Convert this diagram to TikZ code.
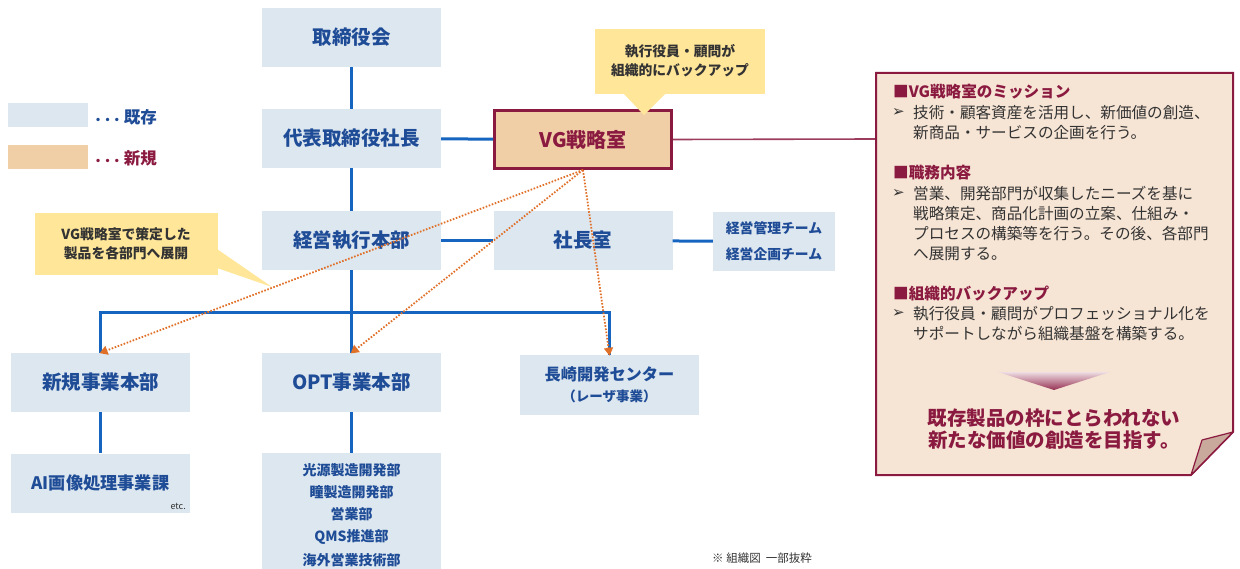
\documentclass[tikz,border=0pt]{standalone}
\usepackage{fontspec}
\setmainfont{Noto Sans CJK JP}
\newfontfamily\dejavu{DejaVu Sans}
\usetikzlibrary{arrows.meta}
\definecolor{boxblue}{HTML}{DDE7F0}
\definecolor{txtblue}{HTML}{1F4C96}
\definecolor{lineblue}{HTML}{1565C0}
\definecolor{darkred}{HTML}{8B1A40}
\definecolor{newfill}{HTML}{F0CFA7}
\definecolor{notefill}{HTML}{F6E4D4}
\definecolor{foldfill}{HTML}{C9A99C}
\definecolor{callout}{HTML}{FFE699}
\definecolor{dotorange}{HTML}{E07028}
\definecolor{graytxt}{HTML}{333333}
\newcommand{\fs}[1]{\fontsize{#1}{#1}\selectfont}
\tikzset{
  orgbox/.style={fill=boxblue, minimum width=179pt, minimum height=59pt, inner sep=0pt, text=txtblue, font=\bfseries\fs{19.5}, align=center},
  bl/.style={draw=lineblue, line width=3pt},
  dots/.style={draw=dotorange, line width=1.8pt, dash pattern=on 1.6pt off 1.6pt, -{Triangle[length=8pt,width=9pt,fill=dotorange]}, shorten >=-1pt},
  notetxt/.style={anchor=west, inner sep=0pt, text=graytxt, font=\fs{15.6}},
  notehead/.style={anchor=west, inner sep=0pt, text=darkred, font=\bfseries\fs{15.6}},
  calltxt/.style={inner sep=0pt, text=graytxt, font=\bfseries\fs{13.8}, align=center}
}
\begin{document}
\begin{tikzpicture}[x=1pt,y=-1pt]
\useasboundingbox (0,0) rectangle (1240,569);
% legend
\fill[boxblue] (8,103) rectangle (88,127);
\fill[newfill] (8,145) rectangle (88,169);
\node[anchor=west, inner sep=0pt, text=txtblue, font=\bfseries\fs{16.5}] (lg1) at (95,117) {{\dejavu\bfseries\fs{9.5}• • •}\ 既存};
\node[anchor=west, inner sep=0pt, text=darkred, font=\bfseries\fs{16.5}] (lg2) at (95,158) {{\dejavu\bfseries\fs{9.5}• • •}\ 新規};
% boxes
\node[orgbox] (board) at (351.5,37.5) {取締役会};
\node[orgbox] (ceo) at (351.5,138.5) {代表取締役社長};
\node[orgbox] (exec) at (351.5,240.5) {経営執行本部};
\node[orgbox] (pres) at (583,240.5) {社長室};
\node[orgbox, minimum width=122pt, font=\bfseries\fs{13.8}, align=center] (team) at (774,241.5) {経営管理チーム\\[12pt]経営企画チーム};
\node[orgbox] (shinki) at (100.5,382.5) {新規事業本部};
\node[orgbox, font=\bfseries\fs{17.2}] (ai) at (100.5,483) {AI画像処理事業課};
\node[anchor=south east, inner sep=0pt, text=graytxt, font=\fs{9}] (etc) at (186,510) {etc.};
\node[orgbox] (opt) at (351.5,382.5) {OPT事業本部};
\node[orgbox, minimum height=120pt, anchor=north] (optsub) at (351.5,453) {};
\node[inner sep=0pt, text=txtblue, font=\bfseries\fs{14}, align=center] (optlist) at (351.5,515.5) {光源製造開発部\\[8pt]瞳製造開発部\\[8pt]営業部\\[8pt]QMS推進部\\[8pt]海外営業技術部};
\node[orgbox, minimum height=60pt, font=\bfseries\fs{16.2}] (naga) at (609.5,385) {長崎開発センター\\[5pt]{\fs{13.5}（レーザ事業）}};
\node[fill=newfill, draw=darkred, line width=3pt, minimum width=177pt, minimum height=58pt, inner sep=0pt, text=darkred, font=\bfseries\fs{20}] (vg) at (583,139.5) {VG戦略室};
% connectors
\draw[bl] (board) -- (ceo);
\draw[bl] (ceo) -- (exec);
\draw[bl] (exec) -- (opt);
\draw[bl] (ceo) -- (vg);
\draw[bl] (exec) -- (pres);
\draw[bl] (pres) -- (team);
\coordinate (bar) at (351.5,313);
\draw[bl] (shinki.north) |- (bar) -| (naga.north);
\draw[bl] (shinki) -- (ai);
\draw[bl] (opt) -- (optsub);
% right note
\coordinate (noteL) at (876,139);
\draw[darkred!85, line width=1.6pt] (vg.east) -- (noteL);
\draw[fill=notefill, draw=darkred, line width=2pt] (876,73) -- (1233,73) -- (1233,432) -- (1191,475) -- (876,475) -- cycle;
\draw[fill=foldfill, draw=darkred, line width=1.2pt, line join=round] (1191,475) -- (1233,432) -- (1202,440) -- cycle;
\node[notehead] (h1) at (893,92) {■VG戦略室のミッション};
\node[notetxt] (b1) at (892,113) {{\dejavu\fs{15}➢}};
\node[notetxt] (l1a) at (913,113) {技術・顧客資産を活用し、新価値の創造、};
\node[notetxt] (l1b) at (913,133) {新商品・サービスの企画を行う。};
\node[notehead] (h2) at (893,173) {■職務内容};
\node[notetxt] (b2) at (892,194) {{\dejavu\fs{15}➢}};
\node[notetxt] (l2a) at (913,194) {営業、開発部門が収集したニーズを基に};
\node[notetxt] (l2b) at (913,214) {戦略策定、商品化計画の立案、仕組み・};
\node[notetxt] (l2c) at (913,234) {プロセスの構築等を行う。その後、各部門};
\node[notetxt] (l2d) at (913,254) {へ展開する。};
\node[notehead] (h3) at (893,294) {■組織的バックアップ};
\node[notetxt] (b3) at (892,314) {{\dejavu\fs{15}➢}};
\node[notetxt] (l3a) at (913,314) {執行役員・顧問がプロフェッショナル化を};
\node[notetxt] (l3b) at (913,334) {サポートしながら組織基盤を構築する。};
\shade[top color=darkred!15, bottom color=darkred!90] (998,372) -- (1110,372) -- (1054,390) -- cycle;
\node[inner sep=0pt, text=darkred, font=\bfseries\fs{19.5}, align=center] (goal) at (1054,429) {既存製品の枠にとらわれない\\[3pt]新たな価値の創造を目指す。};
% callouts
\fill[callout] (595,29) rectangle (765,94);
\fill[callout] (623,93) -- (666,93) -- (644,115) -- cycle;
\node[calltxt] (c1) at (680,61) {執行役員・顧問が\\[5pt]組織的にバックアップ};
\fill[callout] (35,213) rectangle (218,275);
\fill[callout] (217,249) -- (217,268) -- (272,287) -- cycle;
\node[calltxt] (c2) at (126,244) {VG戦略室で策定した\\[5pt]製品を各部門へ展開};
% dotted arrows
\draw[dots] (vg.south) -- (shinki.north);
\draw[dots] (vg.south) -- (opt.north);
\draw[dots] (vg.south) -- (naga.north);
% footnote
\node[anchor=west, inner sep=0pt, text=graytxt, font=\fs{11.5}] (foot) at (712,558) {※ 組織図\ \ 一部抜粋};
\end{tikzpicture}
\end{document}
